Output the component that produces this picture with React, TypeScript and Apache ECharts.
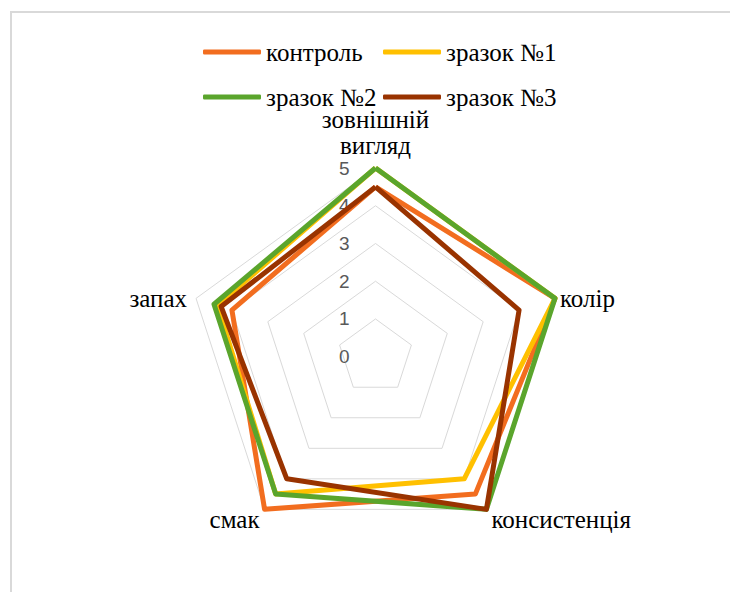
import React, { useEffect, useRef } from 'react';
import * as echarts from 'echarts';

// Categories in clockwise order, starting from the top spoke
const categories = ['зовнішній вигляд', 'колір', 'консистенція', 'смак', 'запах'];
const seriesNames = ['контроль', 'зразок №1', 'зразок №2', 'зразок №3'];
const control = [4.5, 5, 4.5, 5, 4.0];
const sample1 = [5, 5, 4, 4.5, 4.4];
const sample2 = [5, 5, 5, 4.5, 4.5];
const sample3 = [4.5, 4, 5, 4, 4.3];
const tickMin = 0;
const tickMax = 5;

const seriesValues = [control, sample1, sample2, sample3];
const seriesColors = ['#F26D1F', '#FFC000', '#5AA52C', '#993300'];

// Radar geometry (page pixels)
const CX = 375.5;
const CY = 356.7;
const R = 188.7;

// Label placement around each spoke (clockwise order)
const labelPlacement = [
  { text: 'зовнішній\nвигляд', align: 'center', dx: 0, dy: -36 },
  { text: 'колір', align: 'left', dx: 5, dy: 0 },
  { text: 'консистенція', align: 'left', dx: 5, dy: 10 },
  { text: 'смак', align: 'right', dx: -5, dy: 10 },
  { text: 'запах', align: 'right', dx: -9, dy: 0 },
];

// ECharts lays indicators out counter-clockwise; reorder clockwise lists
const toCcw = <T,>(arr: T[]): T[] => [arr[0], ...arr.slice(1).reverse()];

const SERIF = "'Liberation Serif', serif";

export default function App() {
  const ref = useRef<HTMLDivElement>(null);

  useEffect(() => {
    if (!ref.current) return;
    const chart = echarts.init(ref.current, undefined, { renderer: 'svg' });

    const indicator = toCcw(categories).map((name, i) => ({
      name,
      min: tickMin,
      max: tickMax,
      ...(i === 0 ? { axisLabel: { show: true } } : {}),
    }));

    const labels = categories.map((_, i) => {
      const ang = ((90 - i * 72) * Math.PI) / 180;
      const vx = CX + R * Math.cos(ang);
      const vy = CY - R * Math.sin(ang);
      const p = labelPlacement[i];
      return {
        type: 'text',
        x: vx + p.dx,
        y: vy + p.dy,
        z: 10,
        style: {
          text: p.text,
          align: p.align,
          verticalAlign: 'middle',
          fontFamily: SERIF,
          fontSize: 25,
          lineHeight: 26,
          fill: '#000000',
        },
      };
    });

    chart.setOption({
      animation: false,
      backgroundColor: '#ffffff',
      textStyle: { fontFamily: SERIF },
      legend: seriesNames.map((name, i) => ({
        data: [name],
        left: i % 2 === 0 ? 203 : 383,
        top: i < 2 ? 37 : 82,
        padding: 0,
        itemWidth: 58,
        itemHeight: 5,
        icon: 'roundRect',
        selectedMode: false,
        textStyle: { fontFamily: SERIF, fontSize: 25, color: '#000000', lineHeight: 30 },
      })),
      radar: {
        center: [CX, CY],
        radius: R,
        startAngle: 90,
        shape: 'polygon',
        splitNumber: 5,
        indicator,
        axisName: { show: false },
        axisLine: { show: false },
        axisTick: { show: false },
        axisLabel: {
          show: false,
          margin: 26,
          color: '#595959',
          fontFamily: "'Liberation Sans', sans-serif",
          fontSize: 19,
        },
        splitLine: { lineStyle: { color: '#d9d9d9', width: 1 } },
        splitArea: { show: false },
      },
      graphic: [
        {
          type: 'rect',
          x: 11,
          y: 12,
          z: -1,
          shape: { width: 760, height: 640 },
          style: { fill: 'none', stroke: '#d9d9d9', lineWidth: 2 },
        },
        ...labels,
      ],
      series: seriesNames.map((name, i) => ({
        type: 'radar',
        name,
        symbol: 'none',
        color: seriesColors[i],
        lineStyle: { width: 5, color: seriesColors[i] },
        itemStyle: { color: seriesColors[i] },
        data: [{ name, value: toCcw(seriesValues[i]) }],
      })),
    });

    return () => chart.dispose();
  }, []);

  return (
    <div
      ref={ref}
      style={{ position: 'fixed', left: 0, top: 0, width: 730, height: 592 }}
    />
  );
}
